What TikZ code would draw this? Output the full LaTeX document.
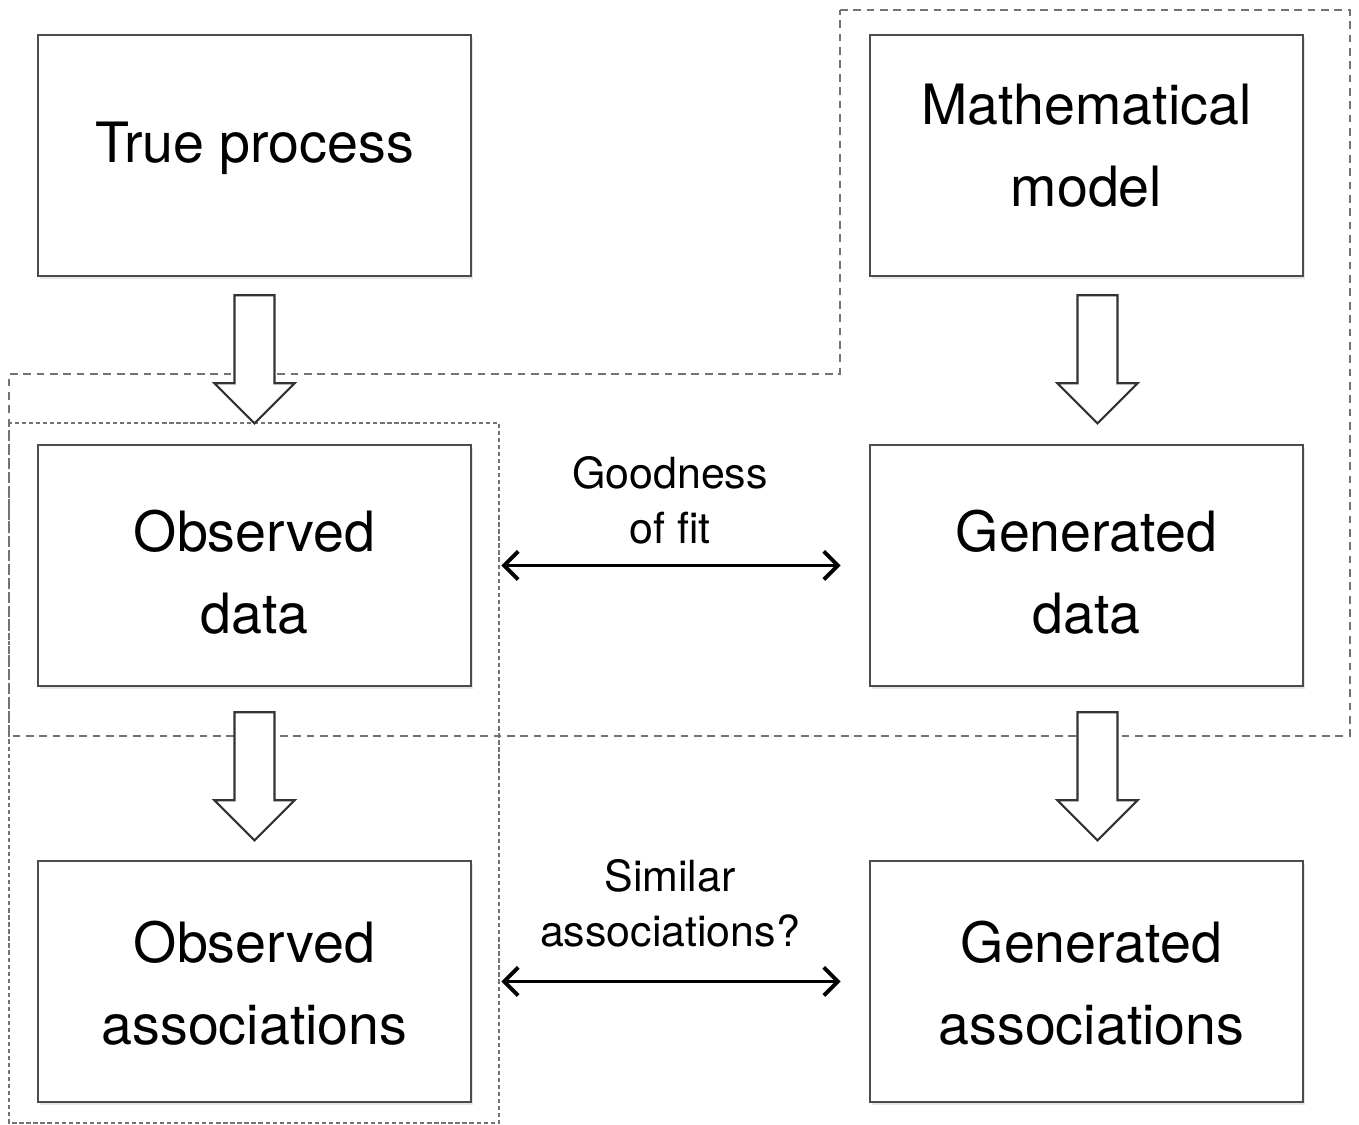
\documentclass[tikz,border=0pt]{standalone}
\usepackage{fontspec}
\setmainfont{TeX Gyre Heros}
\usetikzlibrary{arrows.meta,calc,shadows}

\tikzset{
  stage/.style={draw=black!70, line width=0.7pt, fill=white,
    minimum width=4.33cm, minimum height=2.41cm, inner sep=0pt,
    drop shadow={opacity=0.2, shadow xshift=0.6pt, shadow yshift=-0.9pt}},
  word/.style={align=center, inner sep=0pt, font=\fontsize{15.8}{23.3}\selectfont},
  hollow/.style={draw=black!80, line width=0.6pt, fill=white, line join=miter},
  twoway/.style={{Straight Barb[length=4pt,width=8pt]}-{Straight Barb[length=4pt,width=8pt]},
    line width=1.1pt, shorten <=0.29cm, shorten >=0.28cm},
  note/.style={align=center, font=\fontsize{12.2}{15.6}\selectfont},
  region/.style={draw=black!55, line width=0.6pt, dash pattern=on 2.2pt off 1.6pt},
  column/.style={draw=black!55, line width=0.6pt, dash pattern=on 1.2pt off 0.8pt}
}

\begin{document}
\begin{tikzpicture}[x=0.01cm, y=-0.01cm]

\useasboundingbox (0,0) rectangle (1359,1125);

% dashed areas
\draw[region] (840,10) -- (1350,10) -- (1350,736) -- (9,736) -- (9,374) -- (840,374) -- cycle;
\draw[column] (9,423) rectangle (499,1123);

% boxes
\node[stage, label={[word, yshift=0.07cm]center:True process}] (true) at (254.5,155.5) {};
\node[stage, label={[word, yshift=0.1cm]center:Mathematical\\model}] (model) at (1086.5,155.5) {};
\node[stage, label={[word, yshift=-0.07cm]center:Observed\\data}] (obs) at (254.5,565.5) {};
\node[stage, label={[word, yshift=-0.07cm]center:Generated\\data}] (gen) at (1086.5,565.5) {};
\node[stage, label={[word, yshift=-0.02cm]center:Observed\\associations}] (obsas) at (254.5,981.5) {};
\node[stage, label={[word, yshift=-0.02cm, xshift=0.05cm]center:Generated\\associations}] (genas) at (1086.5,981.5) {};

% block arrows
\foreach \a/\dx/\dy in {true/0/18, model/11/18, obs/0/25, gen/11/25}
    \draw[hollow] ($(\a.south)+(\dx-20,\dy)$) -- ++(40,0) -- ++(0,88) -- ++(20,0)
        -- ++(-40,40) -- ++(-40,-40) -- ++(20,0) -- cycle;

% comparisons
\draw[twoway] (obs.east) -- (gen.west);
\draw[twoway] (obsas.east) -- (genas.west);

\node[note] (fit) at (670,500) {Goodness\\of fit};
\node[note] (sim) at (670,903) {Similar\\associations?};

\end{tikzpicture}
\end{document}
